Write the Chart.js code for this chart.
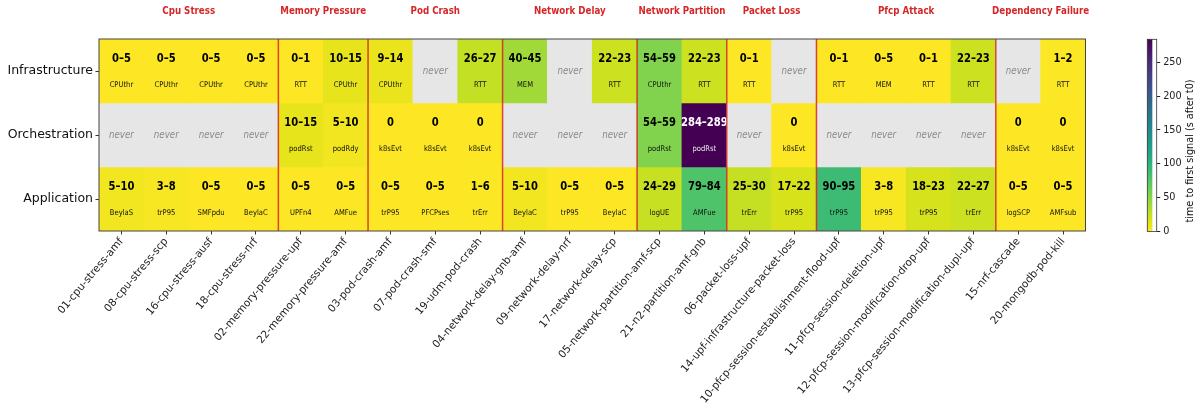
<!DOCTYPE html>
<html>
<head>
<meta charset="utf-8">
<script src="https://cdn.jsdelivr.net/npm/chart.js@4.4.1/dist/chart.umd.min.js"></script>
<style>
  html, body { margin: 0; padding: 0; background: #ffffff; }
  #wrap { position: relative; width: 1197px; height: 403px; }
  #main { position: absolute; left: 0; top: 0; }
  #cbar { position: absolute; left: 1100px; top: 0; }
</style>
</head>
<body>
<div id="wrap">
  <canvas id="main" width="1197" height="403"></canvas>
  <canvas id="cbar" width="97" height="403"></canvas>
</div>
<script>
// Fault scenarios (columns), grouped by fault family
const scenarios = [
  '01-cpu-stress-amf', '08-cpu-stress-scp', '16-cpu-stress-ausf', '18-cpu-stress-nrf',
  '02-memory-pressure-upf', '22-memory-pressure-amf',
  '03-pod-crash-amf', '07-pod-crash-smf', '19-udm-pod-crash',
  '04-network-delay-gnb-amf', '09-network-delay-nrf', '17-network-delay-scp',
  '05-network-partition-amf-scp', '21-n2-partition-amf-gnb',
  '06-packet-loss-upf', '14-upf-infrastructure-packet-loss',
  '10-pfcp-session-establishment-flood-upf', '11-pfcp-session-deletion-upf',
  '12-pfcp-session-modification-drop-upf', '13-pfcp-session-modification-dupl-upf',
  '15-nrf-cascade', '20-mongodb-pod-kill'
];
const groupNames = ['Cpu Stress', 'Memory Pressure', 'Pod Crash', 'Network Delay',
  'Network Partition', 'Packet Loss', 'Pfcp Attack', 'Dependency Failure'];
const groupSizes = [4, 2, 3, 3, 2, 2, 4, 2];

// Observability layers (rows)
const layers = ['Infrastructure', 'Orchestration', 'Application'];

// First-signal window per layer: start / end in seconds after t0 (null = never), and the signal
const infraLo  = [0, 0, 0, 0, 0, 10, 9, null, 26, 40, null, 22, 54, 22, 0, null, 0, 0, 0, 22, null, 1];
const infraHi  = [5, 5, 5, 5, 1, 15, 14, null, 27, 45, null, 23, 59, 23, 1, null, 1, 5, 1, 23, null, 2];
const infraSig = ['CPUthr', 'CPUthr', 'CPUthr', 'CPUthr', 'RTT', 'CPUthr', 'CPUthr', '', 'RTT', 'MEM', '', 'RTT',
  'CPUthr', 'RTT', 'RTT', '', 'RTT', 'MEM', 'RTT', 'RTT', '', 'RTT'];

const orchLo  = [null, null, null, null, 10, 5, 0, 0, 0, null, null, null, 54, 284, null, 0, null, null, null, null, 0, 0];
const orchHi  = [null, null, null, null, 15, 10, 0, 0, 0, null, null, null, 59, 289, null, 0, null, null, null, null, 0, 0];
const orchSig = ['', '', '', '', 'podRst', 'podRdy', 'k8sEvt', 'k8sEvt', 'k8sEvt', '', '', '',
  'podRst', 'podRst', '', 'k8sEvt', '', '', '', '', 'k8sEvt', 'k8sEvt'];

const appLo  = [5, 3, 0, 0, 0, 0, 0, 0, 1, 5, 0, 0, 24, 79, 25, 17, 90, 3, 18, 22, 0, 0];
const appHi  = [10, 8, 5, 5, 5, 5, 5, 5, 6, 10, 5, 5, 29, 84, 30, 22, 95, 8, 23, 27, 5, 5];
const appSig = ['BeylaS', 'trP95', 'SMFpdu', 'BeylaC', 'UPFn4', 'AMFue', 'trP95', 'PFCPses', 'trErr', 'BeylaC',
  'trP95', 'BeylaC', 'logUE', 'AMFue', 'trErr', 'trP95', 'trP95', 'trP95', 'trP95', 'trErr', 'logSCP', 'AMFsub'];

const colorbarTicks = [0, 50, 100, 150, 200, 250];

const rowsLo = [infraLo, orchLo, appLo];
const rowsHi = [infraHi, orchHi, appHi];
const rowsSig = [infraSig, orchSig, appSig];
const vmax = Math.max(...rowsLo.flat().filter(v => v !== null));

const FONT = "'DejaVu Sans', 'Liberation Sans', sans-serif";
const NEVER_COLOR = '#e6e6e6';
const SEP_COLOR = 'rgba(214,39,40,0.85)';
const TEXT_STRETCH = 1.15;   // glyphs are drawn slightly taller than wide

// viridis colour map, sampled every 0.05
const VIRIDIS = ['#440154', '#471365', '#482575', '#463480', '#414487', '#3b528b', '#355f8d',
  '#2f6c8e', '#2a788e', '#25848e', '#21918c', '#1e9c89', '#22a884', '#2fb47c', '#44bf70',
  '#5ec962', '#7ad151', '#9bd93c', '#bddf26', '#dfe318', '#fde725'];
function hexToRgb(h) { return [1, 3, 5].map(i => parseInt(h.slice(i, i + 2), 16)); }
const VIRIDIS_RGB = VIRIDIS.map(hexToRgb);
function viridis(t) {
  t = Math.min(1, Math.max(0, t));
  const p = t * (VIRIDIS_RGB.length - 1);
  const i = Math.min(Math.floor(p), VIRIDIS_RGB.length - 2);
  const f = p - i;
  const a = VIRIDIS_RGB[i], b = VIRIDIS_RGB[i + 1];
  const c = a.map((v, k) => Math.round(v + (b[k] - v) * f));
  return `rgb(${c[0]},${c[1]},${c[2]})`;
}
// reversed map: early signal = yellow, late signal = purple
const cmap = v => viridis(1 - v / vmax);

// one floating-bar dataset per layer; each bar spans one row band
const datasets = layers.map((name, r) => ({
  label: name,
  data: scenarios.map(() => [r, r + 1]),
  backgroundColor: rowsLo[r].map(v => v === null ? NEVER_COLOR : cmap(v)),
  borderWidth: 0,
  barPercentage: 1,
  categoryPercentage: 1,
  grouped: false
}));

const groupStarts = groupSizes.map((_, g) => groupSizes.slice(0, g).reduce((a, b) => a + b, 0));

function tallText(ctx, text, x, y) {
  ctx.save();
  ctx.translate(x, y);
  ctx.scale(1, TEXT_STRETCH);
  ctx.fillText(text, 0, 0);
  ctx.restore();
}

const cellText = {
  id: 'cellText',
  afterDatasetsDraw(chart) {
    const { ctx, chartArea: ca } = chart;
    const xs = chart.scales.x, ys = chart.scales.y;
    ctx.save();
    ctx.textAlign = 'center';
    ctx.textBaseline = 'middle';
    for (let r = 0; r < layers.length; r++) {
      const yc = ys.getPixelForValue(r + 0.5);
      for (let c = 0; c < scenarios.length; c++) {
        const x = xs.getPixelForValue(c);
        const lo = rowsLo[r][c], hi = rowsHi[r][c];
        if (lo === null) {
          ctx.fillStyle = '#8a8a8a';
          ctx.font = `italic 8.7px ${FONT}`;
          tallText(ctx, 'never', x, yc);
          continue;
        }
        const dark = lo / vmax > 0.6;
        ctx.fillStyle = dark ? '#ffffff' : '#000000';
        ctx.font = `bold 10px ${FONT}`;
        tallText(ctx, lo === hi ? String(lo) : `${lo}\u2013${hi}`, x, yc - 12);
        ctx.fillStyle = dark ? '#e8e8e8' : '#111111';
        ctx.font = `6.8px ${FONT}`;
        tallText(ctx, rowsSig[r][c], x, yc + 13.5);
      }
    }
    // family separators
    ctx.strokeStyle = SEP_COLOR;
    ctx.lineWidth = 1.5;
    for (let g = 1; g < groupStarts.length; g++) {
      const b = groupStarts[g];
      const x = (xs.getPixelForValue(b - 1) + xs.getPixelForValue(b)) / 2;
      ctx.beginPath();
      ctx.moveTo(x, ca.top);
      ctx.lineTo(x, ca.bottom);
      ctx.stroke();
    }
    // frame
    ctx.strokeStyle = '#444444';
    ctx.lineWidth = 1;
    ctx.strokeRect(ca.left, ca.top, ca.right - ca.left, ca.bottom - ca.top);
    // family titles
    ctx.fillStyle = '#d62728';
    ctx.font = `bold 8.7px ${FONT}`;
    groupNames.forEach((name, g) => {
      const a = groupStarts[g], b = a + groupSizes[g] - 1;
      const x = (xs.getPixelForValue(a) + xs.getPixelForValue(b)) / 2;
      tallText(ctx, name, x, 11.5);
    });
    ctx.restore();
  }
};

new Chart(document.getElementById('main'), {
  type: 'bar',
  data: { labels: scenarios, datasets },
  options: {
    responsive: false,
    animation: false,
    events: [],
    layout: { padding: { left: 0, right: 111.5, top: 39, bottom: 0 } },
    plugins: { legend: { display: false }, tooltip: { enabled: false } },
    scales: {
      x: {
        type: 'category',
        offset: true,
        grid: { offset: false, drawOnChartArea: false, drawTicks: true, tickLength: 3.5, color: '#333333' },
        border: { display: false },
        ticks: {
          autoSkip: false, minRotation: 50, maxRotation: 50, padding: 1,
          color: '#222222', font: { family: FONT, size: 10.5 }
        },
        afterFit(s) { s.height = 172; }
      },
      y: {
        type: 'linear',
        min: 0, max: 3, reverse: true,
        afterBuildTicks(s) { s.ticks = layers.map((_, i) => ({ value: i + 0.5 })); },
        ticks: {
          callback: (v) => layers[Math.floor(v)],
          padding: 2.5, color: '#111111', font: { family: FONT, size: 12.5 }
        },
        grid: { drawOnChartArea: false, drawTicks: true, tickLength: 3.5, color: '#333333' },
        border: { display: false },
        afterFit(s) { s.width = 99; }
      }
    }
  },
  plugins: [cellText]
});

// colour bar
const cbarDecor = {
  id: 'cbarDecor',
  afterDatasetsDraw(chart) {
    const { ctx, chartArea: ca } = chart;
    ctx.save();
    ctx.strokeStyle = '#333333';
    ctx.lineWidth = 0.8;
    ctx.strokeRect(ca.left, ca.top, ca.right - ca.left, ca.bottom - ca.top);
    ctx.translate(90, 151);
    ctx.rotate(-Math.PI / 2);
    ctx.textAlign = 'center';
    ctx.textBaseline = 'middle';
    ctx.fillStyle = '#111111';
    ctx.font = `9.7px ${FONT}`;
    ctx.fillText('time to first signal (s after t0)', 0, 0);
    ctx.restore();
  }
};

new Chart(document.getElementById('cbar'), {
  type: 'bar',
  data: {
    labels: [''],
    datasets: [{
      data: [[0, vmax]],
      borderWidth: 0,
      barPercentage: 1,
      categoryPercentage: 1,
      backgroundColor(context) {
        const a = context.chart.chartArea;
        if (!a) return cmap(0);
        const g = context.chart.ctx.createLinearGradient(0, a.bottom, 0, a.top);
        for (let i = 0; i <= 20; i++) g.addColorStop(i / 20, cmap(vmax * i / 20));
        return g;
      }
    }]
  },
  options: {
    responsive: false,
    animation: false,
    events: [],
    layout: { padding: { left: 47.3, right: 0, top: 39.3, bottom: 171.5 } },
    plugins: { legend: { display: false }, tooltip: { enabled: false } },
    scales: {
      x: { display: false, offset: false },
      y: {
        position: 'right',
        min: 0, max: vmax,
        afterBuildTicks(s) { s.ticks = colorbarTicks.map(v => ({ value: v })); },
        ticks: { padding: 3, color: '#222222', font: { family: FONT, size: 9.7 } },
        grid: { drawOnChartArea: false, drawTicks: true, tickLength: 3.5, color: '#222222' },
        border: { display: false },
        afterFit(s) { s.width = 40.3; }
      }
    }
  },
  plugins: [cbarDecor]
});
</script>
</body>
</html>
